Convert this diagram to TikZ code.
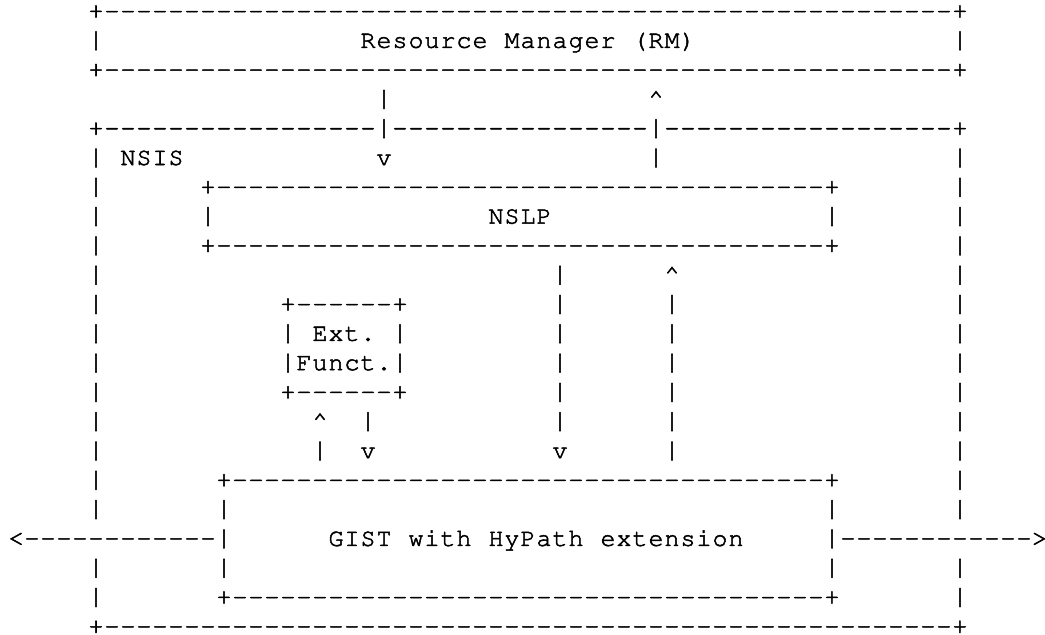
\documentclass[tikz,border=0pt]{standalone}
\usepackage[T1]{fontenc}
\usepackage{courier}
\usepackage{graphicx}
\newlength\cw
\setlength\cw{16pt}
\newcount\dashn
\newsavebox\barbox
\newcommand\up{\textasciicircum}
\newcommand\tallbar{\sbox\barbox{\resizebox*{!}{26pt}{|}}\raisebox{\dimexpr\dp\barbox-6pt\relax}{\usebox\barbox}}
\makeatletter
\newcommand\cells[1]{\cells@aux#1\@nil}
\def\cells@aux#1{\ifx#1\@nil\else\cells@one{#1}\expandafter\cells@aux\fi}
\def\cells@one#1{\makebox[\cw][c]{\ifx#1|\tallbar\else#1\fi}}
\makeatother
\newcommand\dashes[1]{\dashn=#1\relax\loop\ifnum\dashn>0 \makebox[\cw][c]{-}\advance\dashn by -1 \repeat}
\newcommand\hl[1]{\cells{+}\dashes{#1}\cells{+}}
\newcommand\seg[3]{\node[txt] (r#1c#2) at ({8+16*#2},{18.5+29.3*#1}) {#3};}
\tikzset{txt/.style={anchor=base west, inner sep=0pt, outer sep=0pt,
  font=\fontsize{25}{25}\selectfont\ttfamily\special{pdf:literal direct 2 Tr 0.5 w}, text=black}}
\begin{document}
\begin{tikzpicture}[x=1pt,y=-1pt]
\fill[white] (0,0) rectangle (1045,635);
\useasboundingbox (0,0) rectangle (1045,635);
% rows 0-2 : Resource Manager box
\seg{0}{5}{\hl{53}}
\seg{1}{5}{\cells{|}}
\seg{1}{22}{\cells{Resource}}
\seg{1}{31}{\cells{Manager}}
\seg{1}{39}{\cells{(RM)}}
\seg{1}{59}{\cells{|}}
\seg{2}{5}{\hl{53}}
% row 3
\seg{3}{23}{\cells{|}}
\seg{3}{40}{\cells{\up}}
% row 4
\seg{4}{5}{\cells{+}\dashes{17}\cells{|}\dashes{16}\cells{|}\dashes{18}\cells{+}}
% row 5
\seg{5}{5}{\cells{|}}
\seg{5}{7}{\cells{NSIS}}
\seg{5}{23}{\cells{v}}
\seg{5}{40}{\cells{|}}
\seg{5}{59}{\cells{|}}
% rows 6-8 NSLP
\seg{6}{5}{\cells{|}}
\seg{6}{12}{\hl{38}}
\seg{6}{59}{\cells{|}}
\seg{7}{5}{\cells{|}}
\seg{7}{12}{\cells{|}}
\seg{7}{30}{\cells{NSLP}}
\seg{7}{51}{\cells{|}}
\seg{7}{59}{\cells{|}}
\seg{8}{5}{\cells{|}}
\seg{8}{12}{\hl{38}}
\seg{8}{59}{\cells{|}}
% row 9
\seg{9}{5}{\cells{|}}
\seg{9}{34}{\cells{|}}
\seg{9}{41}{\cells{\up}}
\seg{9}{59}{\cells{|}}
% rows 10-13 Ext. Funct.
\seg{10}{5}{\cells{|}}
\seg{10}{17}{\hl{6}}
\seg{10}{34}{\cells{|}}
\seg{10}{41}{\cells{|}}
\seg{10}{59}{\cells{|}}
\seg{11}{5}{\cells{|}}
\seg{11}{17}{\cells{|}}
\seg{11}{19}{\cells{Ext.}}
\seg{11}{24}{\cells{|}}
\seg{11}{34}{\cells{|}}
\seg{11}{41}{\cells{|}}
\seg{11}{59}{\cells{|}}
\seg{12}{5}{\cells{|}}
\seg{12}{17}{\cells{|Funct.|}}
\seg{12}{34}{\cells{|}}
\seg{12}{41}{\cells{|}}
\seg{12}{59}{\cells{|}}
\seg{13}{5}{\cells{|}}
\seg{13}{17}{\hl{6}}
\seg{13}{34}{\cells{|}}
\seg{13}{41}{\cells{|}}
\seg{13}{59}{\cells{|}}
% rows 14-15
\seg{14}{5}{\cells{|}}
\seg{14}{19}{\cells{\up}}
\seg{14}{22}{\cells{|}}
\seg{14}{34}{\cells{|}}
\seg{14}{41}{\cells{|}}
\seg{14}{59}{\cells{|}}
\seg{15}{5}{\cells{|}}
\seg{15}{19}{\cells{|}}
\seg{15}{22}{\cells{v}}
\seg{15}{34}{\cells{v}}
\seg{15}{41}{\cells{|}}
\seg{15}{59}{\cells{|}}
% rows 16-20 GIST
\seg{16}{5}{\cells{|}}
\seg{16}{13}{\hl{37}}
\seg{16}{59}{\cells{|}}
\seg{17}{5}{\cells{|}}
\seg{17}{13}{\cells{|}}
\seg{17}{51}{\cells{|}}
\seg{17}{59}{\cells{|}}
\seg{18}{0}{\cells{<}\dashes{12}\cells{|}}
\seg{18}{20}{\cells{GIST}}
\seg{18}{25}{\cells{with}}
\seg{18}{30}{\cells{HyPath}}
\seg{18}{37}{\cells{extension}}
\seg{18}{51}{\cells{|}\dashes{12}\makebox[12.5pt][l]{>}}
\seg{19}{5}{\cells{|}}
\seg{19}{13}{\cells{|}}
\seg{19}{51}{\cells{|}}
\seg{19}{59}{\cells{|}}
\seg{20}{5}{\cells{|}}
\seg{20}{13}{\hl{37}}
\seg{20}{59}{\cells{|}}
% row 21
\seg{21}{5}{\hl{53}}
\end{tikzpicture}
\end{document}
